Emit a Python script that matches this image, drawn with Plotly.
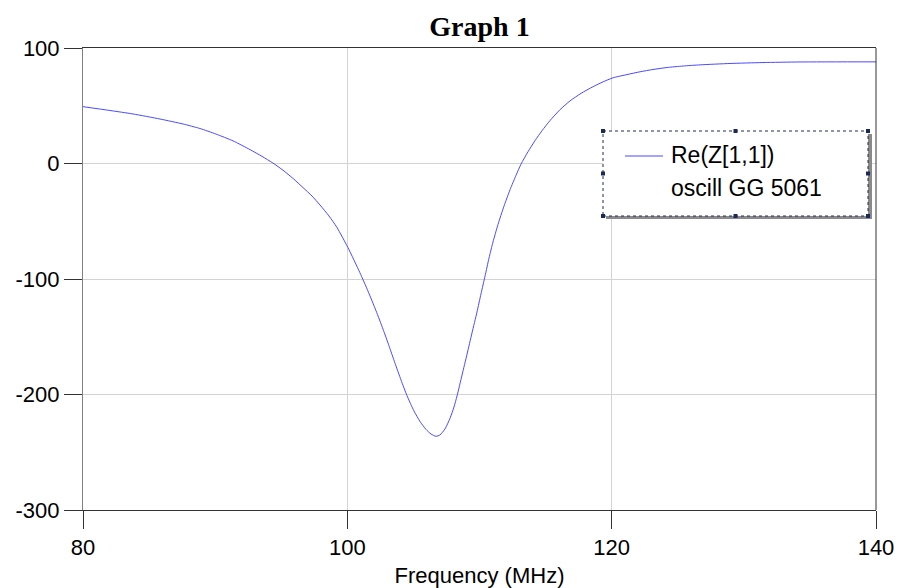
import plotly.graph_objects as go

freq_mhz = [80.00, 82.04, 83.78, 85.83, 87.57, 88.85, 90.06, 91.35, 92.64, 93.54, 94.37,
            95.13, 95.89, 96.65, 97.33, 97.93, 98.61, 99.21, 100.05, 100.95, 101.56,
            102.17, 102.70, 103.15, 103.61, 104.06, 104.51, 105.04, 105.50, 105.95,
            106.33, 106.71, 107.01, 107.39, 107.77, 108.07, 108.30, 108.68, 109.06,
            109.43, 109.81, 110.11, 110.42, 110.72, 111.02, 111.40, 111.85, 112.31,
            112.76, 113.14, 113.67, 114.20, 114.73, 115.33, 116.09, 116.85, 117.68,
            118.59, 119.35, 120.10, 121.16, 122.15, 123.13, 124.19, 125.40, 126.69,
            128.95, 131.45, 134.25, 140.00]
re_z11 = [49.2, 45.9, 42.9, 38.5, 34.2, 30.3, 25.5, 19.6, 12.0, 6.2, 0.4,
          -5.8, -12.9, -20.9, -28.2, -35.9, -45.4, -55.3, -72.9, -94.5, -110.4,
          -127.5, -143.4, -157.8, -173.0, -187.4, -200.9, -214.2, -223.4, -230.2,
          -234.2, -236.2, -235.0, -229.8, -220.6, -210.8, -201.3, -183.1, -164.9,
          -146.8, -128.6, -113.0, -97.4, -81.8, -68.0, -52.8, -37.0, -22.7,
          -10.3, -0.6, 10.2, 19.8, 28.4, 37.1, 46.6, 54.2, 60.7,
          66.5, 70.7, 74.2, 77.0, 79.4, 81.4, 83.1, 84.4, 85.4,
          86.6, 87.4, 87.9, 88.0]
legend_lines = ["Re(Z[1,1])", "oscill GG 5061"]
x_ticks = [80, 100, 120, 140]
x_tick_text = ["80", "100", "120", "140"]
y_ticks = [100, 0, -100, -200, -300]
y_tick_text = ["100", "0", "-100", "-200", "-300"]

W, H = 899, 588
L, R, T, B = 83, 876, 48, 510
pw, ph = R - L, B - T


def px(x):
    return (x - L) / pw


def py(y):
    return (B - y) / ph


fig = go.Figure()
fig.add_trace(go.Scatter(
    x=freq_mhz, y=re_z11, mode="lines", name=legend_lines[0],
    line=dict(color="#4a4aff", width=1, shape="spline", smoothing=0.6),
    showlegend=False, hoverinfo="x+y"))

font_tick = dict(family="Liberation Sans, Arial, sans-serif", size=22, color="#000")

fig.update_layout(
    width=W, height=H,
    margin=dict(l=L, r=W - R, t=T, b=H - B, autoexpand=False),
    paper_bgcolor="white", plot_bgcolor="white",
    title=dict(text="<b>Graph 1</b>", x=(L + R) / 2 / W, xanchor="center",
               y=1 - 26 / H, yanchor="middle",
               font=dict(family="Liberation Serif, Times New Roman, serif", size=28, color="#000")),
    xaxis=dict(range=[80, 140], tickvals=x_ticks, ticktext=x_tick_text, ticks="outside",
               ticklen=18, tickcolor="#333", tickwidth=1, showline=True, linecolor="#333",
               linewidth=1, mirror=True, showgrid=True, gridcolor="#d3d3d3",
               gridwidth=1, zeroline=False, tickfont=font_tick, automargin=False,
               title=dict(text="Frequency (MHz)", font=font_tick, standoff=15)),
    yaxis=dict(range=[-300, 100], tickvals=y_ticks, ticktext=y_tick_text, ticks="outside",
               ticklen=18, tickcolor="#333", tickwidth=1, showline=True, linecolor="#808080",
               linewidth=1, mirror=False, showgrid=True, gridcolor="#d3d3d3",
               gridwidth=1, zeroline=False, tickfont=font_tick, automargin=False),
)

shapes = []
shapes.append(dict(type="line", xref="paper", yref="paper", x0=1, x1=1, y0=0, y1=1,
                   line=dict(color="#333", width=1)))
bx0, bx1, by0, by1 = 603, 868, 131, 216
shapes.append(dict(type="rect", xref="paper", yref="paper",
                   x0=px(bx0 + 3), x1=px(bx1 + 4), y0=py(by1 + 3), y1=py(by0 + 3),
                   fillcolor="#8a8a8a", line=dict(width=0), layer="above"))
shapes.append(dict(type="rect", xref="paper", yref="paper",
                   x0=px(bx0), x1=px(bx1), y0=py(by1), y1=py(by0),
                   fillcolor="white", line=dict(color="#1c2a5a", width=1, dash="dot"),
                   layer="above"))
for hx in (bx0, (bx0 + bx1) / 2, bx1):
    for hy in (by0, (by0 + by1) / 2, by1):
        if hx == (bx0 + bx1) / 2 and hy == (by0 + by1) / 2:
            continue
        shapes.append(dict(type="rect", xref="paper", yref="paper",
                           x0=px(hx - 2), x1=px(hx + 2), y0=py(hy + 2), y1=py(hy - 2),
                           fillcolor="#1c2a5a", line=dict(width=0), layer="above"))
shapes.append(dict(type="line", xref="paper", yref="paper",
                   x0=px(625), x1=px(663), y0=py(156), y1=py(156),
                   line=dict(color="#4a4aff", width=1), layer="above"))
fig.update_layout(shapes=shapes)

font_leg = dict(family="Liberation Sans, Arial, sans-serif", size=23, color="#000")
fig.add_annotation(xref="paper", yref="paper", x=px(669), y=py(155), xanchor="left",
                   yanchor="middle", text=legend_lines[0], showarrow=False, font=font_leg)
fig.add_annotation(xref="paper", yref="paper", x=px(669), y=py(188), xanchor="left",
                   yanchor="middle", text=legend_lines[1], showarrow=False, font=font_leg)

fig.write_html("out.html")
